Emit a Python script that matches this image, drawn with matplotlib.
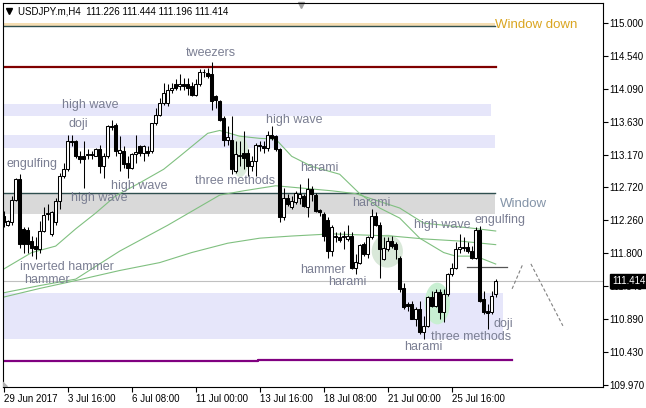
import numpy as np
import matplotlib.pyplot as plt
from matplotlib.patches import Ellipse, Polygon
from matplotlib.transforms import blended_transform_factory

plt.rcParams['font.family'] = ['Liberation Sans', 'DejaVu Sans']

# USDJPY.m H4 bars, bar 0 = 29 Jun 2017 00:00
opens = [112.32, 112.20, 112.23, 112.54, 112.83, 112.14, 112.13, 111.97, 111.90, 111.86,
         112.11, 112.34, 112.07, 112.23, 112.53, 112.88, 112.97, 113.36, 113.36, 113.15,
         113.16, 113.17, 113.18, 113.16, 113.25, 113.01, 113.15, 113.57, 113.59, 113.20,
         113.23, 113.05, 112.99, 113.18, 113.30, 113.20, 113.23, 113.22, 113.62, 113.73,
         113.89, 113.89, 114.08, 114.15, 114.13, 114.15, 114.15, 114.13, 114.01, 114.15,
         114.33, 114.31, 114.29, 113.99, 113.92, 113.69, 113.38, 113.38, 112.94, 113.16,
         113.19, 113.20, 113.01, 113.08, 113.30, 113.30, 113.27, 113.45, 113.43, 113.25,
         112.30, 112.57, 112.44, 112.51, 112.57, 112.60, 112.44, 112.69, 112.61, 112.40,
         112.34, 112.27, 111.83, 112.02, 112.02, 112.02, 112.00, 112.04, 111.60, 111.67,
         111.93, 111.79, 112.02, 112.32, 112.20, 111.72, 111.86, 111.97, 111.93, 111.74,
         111.32, 111.09, 111.09, 110.88, 111.02, 110.70, 110.79, 111.19, 111.07, 111.26,
         110.98, 111.23, 111.51, 111.60, 111.86, 111.88, 111.89, 111.83, 111.74, 112.13,
         111.16, 111.00, 110.98, 111.226]
highs = [112.39, 112.27, 112.60, 112.85, 112.90, 112.17, 112.16, 112.04, 112.02, 112.25,
         112.44, 112.48, 112.39, 112.57, 112.92, 113.06, 113.45, 113.45, 113.38, 113.22,
         113.36, 113.25, 113.22, 113.27, 113.31, 113.20, 113.59, 113.66, 113.62, 113.43,
         113.29, 113.15, 113.20, 113.45, 113.31, 113.31, 113.29, 113.62, 113.82, 113.96,
         114.17, 114.15, 114.17, 114.22, 114.29, 114.24, 114.24, 114.19, 114.22, 114.36,
         114.36, 114.38, 114.47, 114.01, 113.94, 113.71, 113.57, 113.71, 113.36, 113.36,
         113.50, 113.25, 113.15, 113.34, 113.36, 113.36, 113.50, 113.57, 113.45, 113.27,
         112.71, 112.62, 112.60, 112.67, 112.76, 112.62, 112.85, 112.74, 112.64, 112.41,
         112.37, 112.30, 112.20, 112.09, 112.09, 112.11, 112.20, 112.09, 111.79, 111.93,
         111.95, 112.04, 112.41, 112.37, 112.23, 112.02, 112.02, 112.04, 111.95, 111.76,
         111.39, 111.12, 111.14, 111.05, 111.14, 110.93, 111.21, 111.28, 111.30, 111.30,
         111.30, 111.53, 111.67, 111.95, 112.07, 112.02, 111.95, 111.90, 112.16, 112.18,
         111.28, 111.09, 111.28, 111.444]
lows = [112.16, 112.18, 112.20, 112.53, 111.88, 111.81, 111.81, 111.76, 111.72, 111.81,
        112.09, 112.27, 112.04, 112.20, 112.41, 112.85, 112.94, 113.29, 113.13, 113.06,
        112.71, 113.11, 113.11, 113.15, 112.92, 112.85, 113.13, 113.52, 113.15, 112.94,
        112.99, 112.85, 112.97, 113.06, 113.15, 113.08, 113.15, 113.20, 113.59, 113.71,
        113.87, 113.85, 114.03, 114.08, 114.08, 114.08, 114.01, 113.99, 113.99, 114.13,
        114.26, 114.24, 113.80, 113.82, 113.64, 113.29, 113.31, 112.90, 112.92, 113.01,
        112.97, 112.88, 112.94, 112.88, 113.22, 113.20, 113.22, 113.38, 113.22, 112.23,
        112.27, 112.46, 112.41, 112.48, 112.48, 112.44, 112.30, 112.53, 112.37, 112.32,
        111.97, 111.74, 111.76, 111.95, 111.95, 111.86, 111.97, 111.58, 111.51, 111.65,
        111.76, 111.74, 112.00, 112.18, 111.46, 111.70, 111.83, 111.88, 111.72, 111.26,
        111.02, 111.00, 110.88, 110.79, 110.68, 110.61, 110.77, 111.05, 111.05, 110.88,
        110.84, 111.21, 111.49, 111.58, 111.81, 111.83, 111.81, 111.72, 111.72, 111.12,
        110.95, 110.75, 110.95, 111.196]
closes = [112.23, 112.25, 112.54, 112.83, 111.93, 111.93, 111.93, 111.88, 111.86, 112.11,
          112.33, 112.36, 112.37, 112.53, 112.88, 112.97, 113.36, 113.35, 113.15, 113.11,
          113.11, 113.18, 113.17, 113.25, 113.01, 113.15, 113.57, 113.56, 113.22, 113.24,
          113.04, 112.99, 113.18, 113.21, 113.20, 113.29, 113.19, 113.62, 113.73, 113.89,
          114.03, 114.08, 114.10, 114.10, 114.16, 114.13, 114.10, 114.01, 114.15, 114.33,
          114.32, 114.27, 113.92, 113.94, 113.66, 113.38, 113.42, 112.97, 113.18, 113.17,
          113.13, 113.01, 113.08, 113.31, 113.31, 113.27, 113.45, 113.41, 113.25, 112.30,
          112.57, 112.48, 112.53, 112.64, 112.62, 112.46, 112.69, 112.62, 112.39, 112.37,
          112.04, 111.83, 112.16, 112.04, 111.99, 112.04, 112.04, 111.60, 111.68, 111.91,
          111.79, 112.02, 112.32, 112.20, 111.86, 111.88, 111.97, 111.90, 111.86, 111.30,
          111.05, 111.06, 110.88, 111.02, 110.70, 110.79, 111.19, 111.07, 111.26, 110.98,
          111.23, 111.51, 111.60, 111.86, 111.89, 111.89, 111.83, 111.74, 112.13, 111.14,
          110.98, 110.97, 111.21, 111.414]

# moving averages, read at a handful of bars
ma_fast_bars = [0, 7, 13, 18, 23, 28, 34, 40, 44, 51, 54, 59, 64, 68, 72, 77, 84, 89, 94, 99, 104, 110, 113, 118, 123]
ma_fast = [111.58, 111.81, 111.90, 112.14, 112.36, 112.60, 112.78, 112.97, 113.15, 113.47, 113.51, 113.43, 113.40,
           113.39, 113.15, 113.01, 112.90, 112.63, 112.43, 112.29, 112.01, 111.81, 111.76, 111.76, 111.65]
ma_mid_bars = [0, 9, 18, 29, 41, 54, 60, 68, 74, 82, 88, 99, 105, 117, 123]
ma_mid = [111.25, 111.35, 111.44, 111.83, 112.19, 112.61, 112.67, 112.74, 112.71, 112.67, 112.63, 112.43, 112.22, 112.15, 112.11]
ma_slow_bars = [0, 9, 18, 29, 39, 47, 56, 64, 72, 82, 97, 105, 114, 123]
ma_slow = [111.19, 111.31, 111.42, 111.56, 111.67, 111.81, 111.94, 112.01, 112.04, 112.07, 112.04, 112.00, 111.97, 111.92]

price_ticks = [115.000, 114.540, 114.090, 113.630, 113.170, 112.720, 112.260, 111.800, 111.340, 110.890, 110.430, 109.970]
date_ticks = [0, 16, 32, 48, 64, 80, 96, 112]
date_labels = ['29 Jun 2017', '3 Jul 16:00', '6 Jul 08:00', '11 Jul 00:00', '13 Jul 16:00',
               '18 Jul 08:00', '21 Jul 00:00', '25 Jul 16:00']

# candlestick pattern names and where they sit
pattern_names = ['tweezers', 'high wave', 'doji', 'engulfing', 'high wave', 'high wave', 'inverted hammer', 'hammer',
                 'three methods', 'high wave', 'harami', 'harami', 'hammer', 'harami', 'harami', 'three methods',
                 'doji', 'high wave', 'engulfing']
pattern_bars = [51.8, 21.7, 18.7, 7.1, 33.8, 23.8, 15.8, 10.8, 57.8, 72.6, 78.8, 91.8, 79.8, 85.8, 104.8, 116.8,
                124.8, 109.6, 124.1]
pattern_prices = [114.587, 113.864, 113.599, 113.043, 112.737, 112.570, 111.610, 111.430, 112.807, 113.655, 112.987,
                  112.501, 111.569, 111.402, 110.498, 110.637, 110.818, 112.195, 112.264]

# support / resistance zones: low, high, last bar
zone_lows = [113.711, 113.270, 110.609]
zone_highs = [113.882, 113.447, 111.253]
zone_ends = [121.8, 122.8, 124.8]
window = (112.348, 112.644)
window_down = (114.967, 115.008, 114.958)
resistance = 114.396
support_left, support_right = 110.293, 110.310
last_price = 111.414

fig = plt.figure(figsize=(6.46, 4.08), dpi=100)
ax = fig.add_axes([2.7 / 646, 21.3 / 408, 600 / 646, 384 / 408])
ax.set_xlim(-0.25, 149.75)
ax.set_ylim(109.942, 115.289)

# zones and levels
for lo, hi, end in zip(zone_lows, zone_highs, zone_ends):
    ax.fill_between([-5, end], lo, hi, color='#e6e6fa', lw=0, zorder=0.5)
ax.fill_between([-5, 122.8], window[0], window[1], color='#d9d9d9', lw=0, zorder=0.5)
ax.plot([-5, 122.8], [window[1], window[1]], color='#2f4f4f', lw=1, zorder=1)
ax.fill_between([-5, 122.8], window_down[0], window_down[1], color='#f5deb3', lw=0, zorder=0.5)
ax.plot([-5, 122.8], [window_down[2], window_down[2]], color='#2f4f4f', lw=1, zorder=1)
ax.plot([-5, 123.0], [resistance, resistance], color='#800000', lw=1.6, zorder=1)
ax.plot([-5, 63.5, 63.5, 127.0], [support_left, support_left, support_right, support_right],
        color='#800080', lw=1.6, zorder=1)
ax.axhline(last_price, color='#c0c0c0', lw=0.8, zorder=1)
ax.plot([115.8, 125.8], [111.611, 111.611], color='#555555', lw=0.9, zorder=1)

# projected swing
ax.plot([127.1, 129.8], [111.305, 111.652], color='#808080', lw=0.8, ls=(0, (3, 2)), zorder=1)
ax.plot([131.8, 139.8], [111.652, 110.79], color='#808080', lw=0.8, ls=(0, (3, 2)), zorder=1)

# highlighted pattern areas
ax.add_patch(Ellipse((59.1, 113.15), 4.5, 0.58, color='#dcebdc', lw=0, zorder=0.8))
ax.add_patch(Ellipse((95.9, 111.83), 7.8, 0.46, color='#d9e8d9', lw=0, zorder=0.8))
ax.add_patch(Ellipse((108.4, 111.10), 6.3, 0.58, color='#c8efd2', lw=0, zorder=0.8))

# moving averages
for bx, vals in [(ma_fast_bars, ma_fast), (ma_mid_bars, ma_mid), (ma_slow_bars, ma_slow)]:
    ax.plot(bx, vals, color='#80c080', lw=0.8, zorder=2)

# candles
x = np.arange(len(opens))
o = np.array(opens)
c = np.array(closes)
up = c >= o
ax.vlines(x, lows, highs, color='black', lw=0.75, zorder=3)
ax.bar(x[up], (c - o)[up], bottom=o[up], width=0.75, facecolor='white', edgecolor='black', lw=0.75, zorder=4)
ax.bar(x[~up], (c - o)[~up], bottom=o[~up], width=0.75, facecolor='black', edgecolor='black', lw=0.75, zorder=4)

for name, bx, py in zip(pattern_names, pattern_bars, pattern_prices):
    ax.text(bx, py, name, fontsize=9, color='#7b7f93', ha='center', va='center', zorder=5)
ax.text(124.1, 112.487, 'Window', fontsize=9.5, color='#8494a8', ha='left', va='center', zorder=5)
ax.text(122.8, 114.976, 'Window down', fontsize=9.5, color='#daa520', ha='left', va='center', zorder=5)

# header and chart markers
ax.plot([0.011], [0.978], marker='v', ms=4.5, color='black', transform=ax.transAxes, clip_on=False)
ax.text(0.026, 0.978, 'USDJPY.m,H4  111.226 111.444 111.196 111.414', fontsize=7,
        transform=ax.transAxes, ha='left', va='center')
ax.plot([0.497], [0.994], marker='v', ms=4, color='#a0a0a0', transform=ax.transAxes, clip_on=False)
ax.add_patch(Polygon([(0, 0), (0.008, 0), (0, 0.012)], closed=True, color='#b0b0b0',
                     transform=ax.transAxes, zorder=5))

# axes in the terminal style
for s in ax.spines.values():
    s.set_linewidth(0.8)
ax.yaxis.tick_right()
ax.set_yticks(price_ticks)
ax.set_yticklabels([f'{v:.3f}' for v in price_ticks])
ax.set_xticks(date_ticks)
ax.set_xticklabels(date_labels, ha='left')
ax.tick_params(axis='y', length=3.6, width=0.8, pad=1.5, labelsize=7)
ax.tick_params(axis='x', length=3.6, width=0.8, pad=1.5, labelsize=7)

# current price tag sits over the 111.340 label, as in the terminal
tr = blended_transform_factory(ax.transAxes, ax.transData)
ax.text(1.0155, last_price, f'{last_price:.3f}', transform=tr, fontsize=7, color='white',
        ha='left', va='center', zorder=6, clip_on=False,
        bbox=dict(facecolor='black', edgecolor='black', boxstyle='square,pad=0.25'))

plt.savefig('out.png', dpi=100)
